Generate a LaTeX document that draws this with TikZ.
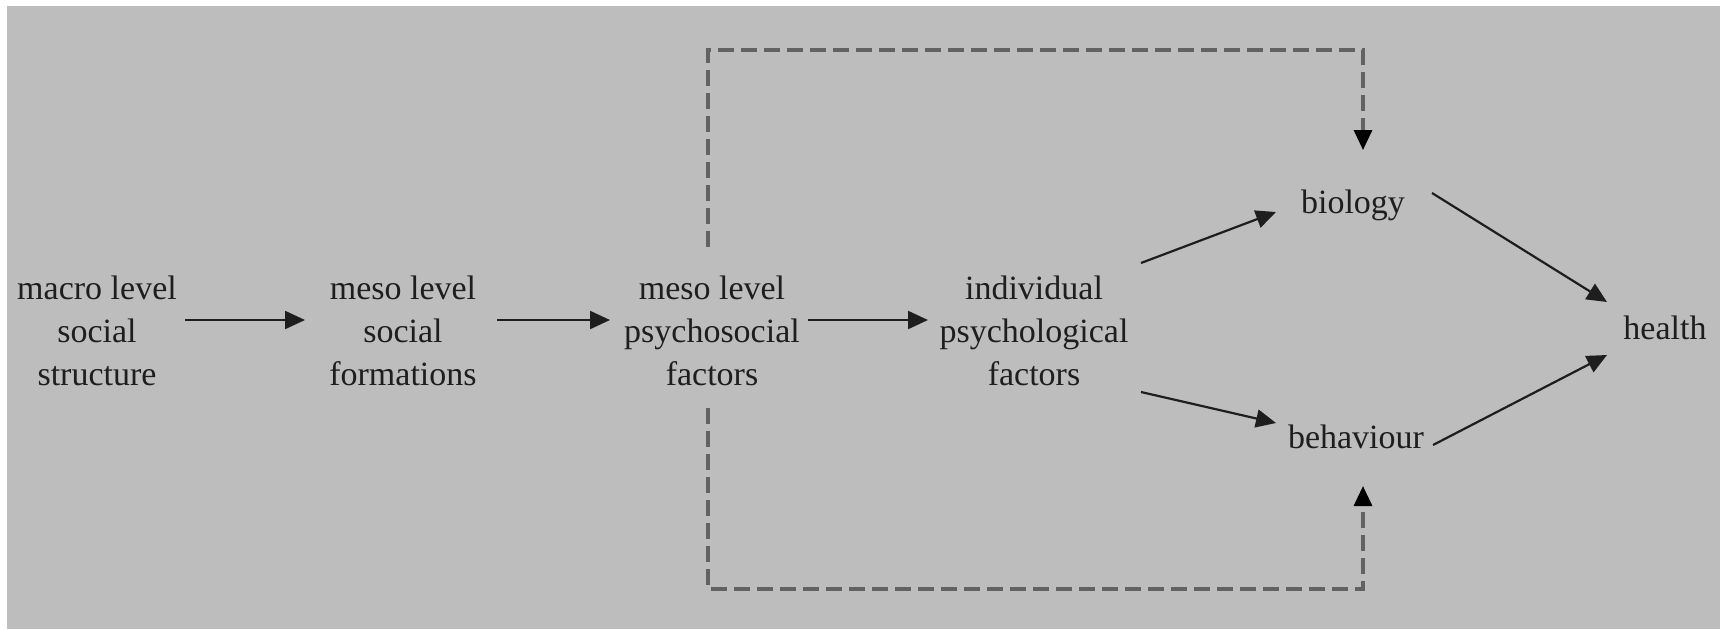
\documentclass[tikz,border=0pt]{standalone}
\usepackage{fontspec}
\setmainfont{Liberation Serif}
\usetikzlibrary{arrows.meta,calc}
\definecolor{bggray}{HTML}{BDBDBD}
\definecolor{ink}{HTML}{1E1E1E}
\definecolor{dashgray}{HTML}{626262}
\begin{document}
\begin{tikzpicture}[x=0.5pt,y=-0.5pt,
  lbl/.style={inner sep=0pt,outer sep=0pt,align=center,text=ink,font=\fontsize{17pt}{21.5pt}\selectfont},
  arr/.style={draw=ink,line width=1.1pt,-{Triangle[length=10pt,width=9pt]}},
  dasharr/.style={draw=dashgray,line width=1.6pt,dash pattern=on 8pt off 3.5pt,-{Triangle[length=10pt,width=9pt,fill=black,color=black]}}]
\useasboundingbox (0,0) rectangle (1720,629);
\fill[bggray] (7,6) rectangle (1720,629);
\node[lbl] (macro) at (97,331) {macro level\\social\\structure};
\node[lbl] (mesosoc) at (403,331) {meso level\\social\\formations};
\node[lbl] (mesopsy) at (712,331) {meso level\\psychosocial\\factors};
\node[lbl] (indiv) at (1034,331) {individual\\psychological\\factors};
\node[lbl] (biology) at (1353,205) {biology};
\node[lbl] (behaviour) at (1356,437) {behaviour};
\node[lbl] (health) at (1665,328) {health};
\draw[arr] ($(macro.center)+(88,-11)$) -- ($(mesosoc.center)+(-98,-11)$);
\draw[arr] ($(mesosoc.center)+(94,-11)$) -- ($(mesopsy.center)+(-102,-11)$);
\draw[arr] ($(mesopsy.center)+(96,-11)$) -- ($(indiv.center)+(-106,-11)$);
\draw[arr] ($(indiv.center)+(107,-68)$) -- ($(biology.center)+(-77,7)$);
\draw[arr] ($(indiv.center)+(107,61)$) -- ($(behaviour.center)+(-80,-14)$);
\draw[arr] ($(biology.center)+(79,-12)$) -- ($(health.center)+(-58,-26)$);
\draw[arr] ($(behaviour.center)+(77,8)$) -- ($(health.center)+(-58,27)$);
\draw[dasharr] ($(mesopsy.center)+(-4,-84)$) |- ($(biology.center)+(10,-155)$) -- ($(biology.center)+(10,-55)$);
\draw[dasharr] ($(mesopsy.center)+(-4,77)$) |- ($(behaviour.center)+(7,152)$) -- ($(behaviour.center)+(7,49)$);
\end{tikzpicture}
\end{document}
